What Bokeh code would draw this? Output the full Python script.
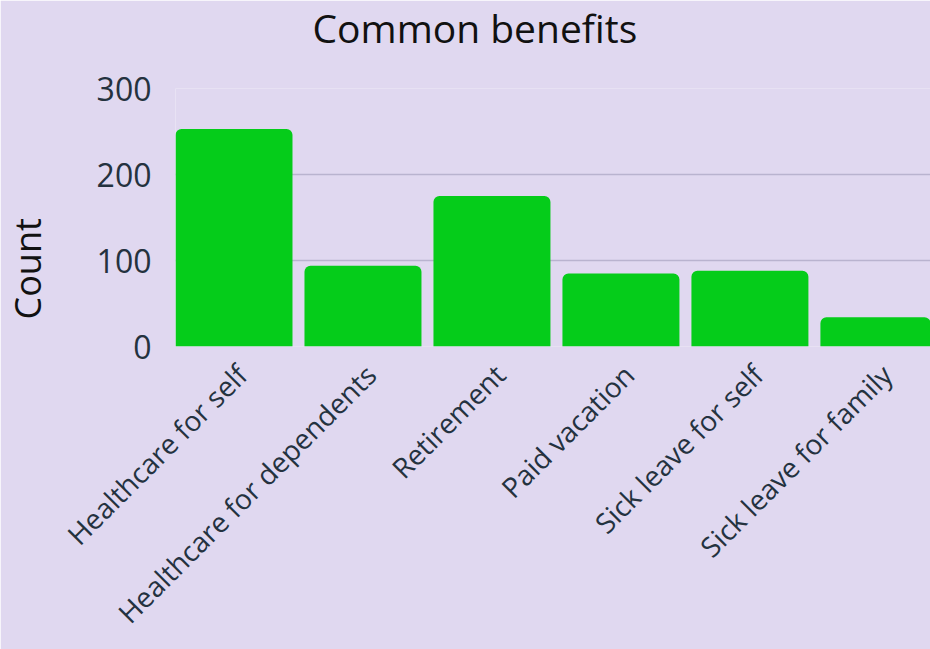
import math
from bokeh.plotting import figure
from bokeh.models import Range1d, FixedTicker, ColumnDataSource, Title
from bokeh.embed import file_html
from bokeh.resources import INLINE

categories = ["Healthcare for self", "Healthcare for dependents", "Retirement",
              "Paid vacation", "Sick leave for self", "Sick leave for family"]
counts = [253, 94, 175, 85, 88, 34]
y_ticks = [0, 100, 200, 300]

BG = "#E0D8F0"
GREEN = "#05CC1A"
TXT = "#24323F"
FONT = "Open Sans"

xs = [i + 0.5 for i in range(len(categories))]
src = ColumnDataSource(dict(x=xs, top=counts, cat=categories))

X0, X1 = 0.0465, 5.90
p = figure(width=930, height=649, output_backend="svg", toolbar_location=None,
           x_range=Range1d(X0, X1), y_range=Range1d(0, 300),
           min_border_left=175, min_border_top=88, min_border_bottom=303,
           min_border_right=0)

p.vbar(x="x", top="top", width=0.907, bottom=0, source=src,
       fill_color=GREEN, line_color=None, border_radius=(6, 6, 0, 0))

p.background_fill_color = BG
p.border_fill_color = BG
p.outline_line_color = None

# chart title (outermost above panel) with a spacer between it and the frame
try:
    p.title.standoff = -12
    spacer_top = 28
except Exception:
    p.title.standoff = 0
    spacer_top = 19
p.add_layout(Title(text=" ", text_font_size="10px", standoff=spacer_top), "above")
p.title.text = "Common benefits"
p.title.align = "left"
p.title.offset = 137
p.title.text_font = FONT
p.title.text_font_size = "39px"
p.title.text_font_style = "normal"
p.title.text_color = "#111111"

# x axis
p.xaxis.ticker = FixedTicker(ticks=[x + 0.06 for x in xs])
p.xaxis.major_label_overrides = {x + 0.06: c for x, c in zip(xs, categories)}
p.xaxis.major_label_orientation = math.pi / 4
p.xaxis.major_label_text_font = FONT
p.xaxis.major_label_text_font_size = "28px"
p.xaxis.major_label_text_color = TXT
p.xaxis.axis_line_color = None
p.xaxis.major_tick_line_color = None
p.xaxis.minor_tick_line_color = None
p.xaxis.major_label_standoff = 17

# y axis
p.yaxis.ticker = FixedTicker(ticks=y_ticks)
p.yaxis.major_label_text_font = FONT
p.yaxis.major_label_text_font_size = "32px"
p.yaxis.major_label_text_color = TXT
p.yaxis.axis_line_color = None
p.yaxis.major_tick_line_color = None
p.yaxis.minor_tick_line_color = None
p.yaxis.major_label_standoff = 18

# spacer between y axis and its title, then the title itself
p.add_layout(Title(text=" ", text_font_size="10px", standoff=29), "left")
p.add_layout(Title(text="Count", align="left", offset=27, standoff=0,
                   text_font=FONT, text_font_size="36px", text_font_style="normal",
                   text_color="#111111"), "left")

p.xgrid.grid_line_color = None
p.ygrid.grid_line_color = "#B9B3CF"
p.ygrid.grid_line_width = 1.5

open("out.html", "w").write(file_html(p, INLINE))
